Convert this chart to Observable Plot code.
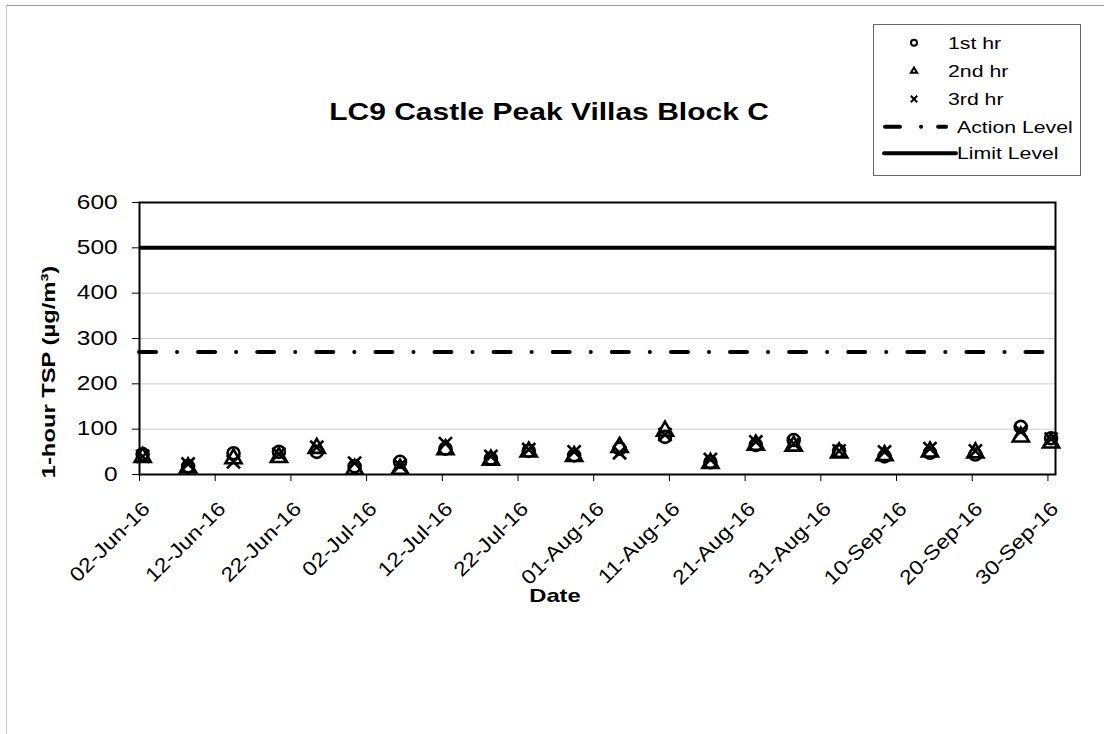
<!DOCTYPE html>
<html><head><meta charset="utf-8">
<script src="https://cdn.jsdelivr.net/npm/d3@7"></script>
<script src="https://cdn.jsdelivr.net/npm/@observablehq/plot@0.6"></script>
<style>
html,body{margin:0;padding:0;background:#fff;}
#wrap{position:relative;width:1104px;height:734px;overflow:hidden;}
#border{position:absolute;left:6px;top:5px;width:1300px;height:900px;border-top:1px solid #9a9a9a;border-left:1px solid #c4c4c4;pointer-events:none;}
#wrap svg{position:absolute;left:0;top:0;}
</style>
</head><body>
<div id="wrap"><div id="border"></div></div>
<script>
// ---- data ----
const sampleDates = ["2016-06-02","2016-06-08","2016-06-14","2016-06-20","2016-06-25","2016-06-30",
  "2016-07-06","2016-07-12","2016-07-18","2016-07-23","2016-07-29","2016-08-04","2016-08-10",
  "2016-08-16","2016-08-22","2016-08-27","2016-09-02","2016-09-08","2016-09-14","2016-09-20",
  "2016-09-26","2016-09-30"];
const sampleTime = "T10:00:00Z";
const hr1 = [45,18,47,50,50,18,28,57,35,52,42,57,83,27,65,76,52,40,48,44,105,80];
const hr2 = [38,15,35,38,58,12,12,55,32,50,40,60,96,25,65,63,48,42,50,48,83,70];
const hr3 = [40,23,28,45,60,25,20,68,40,55,50,48,88,33,72,68,52,50,57,52,95,78];
const actionLevel = 270;
const limitLevel = 500;
const xTicks = ["2016-06-02","2016-06-12","2016-06-22","2016-07-02","2016-07-12","2016-07-22",
  "2016-08-01","2016-08-11","2016-08-21","2016-08-31","2016-09-10","2016-09-20","2016-09-30"];
const xDomain = ["2016-06-02","2016-10-01"];
const yTicks = [0,100,200,300,400,500,600];
const yGrid = [100,200,300,400,500];
const seriesNames = ["1st hr","2nd hr","3rd hr"];
const levelNames = ["Action Level","Limit Level"];
const titleText = "LC9 Castle Peak Villas Block C";
const yLabel = "1-hour TSP (µg/m³)";
const xLabel = "Date";

// ---- build ----
const font = "'Liberation Sans', Arial, sans-serif";
const pts = (vals) => sampleDates.map((d,i) => ({date: new Date(d + sampleTime), v: vals[i]}));
const dotOpts = {x: "date", y: "v", stroke: "black", fill: "none", strokeWidth: 2.6, r: 6};
const fmt = d3.utcFormat("%d-%b-%y");
const xTickDates = xTicks.map(d => new Date(d));

const chart = Plot.plot({
  width: 1104, height: 734,
  marginLeft: 139, marginRight: 49, marginTop: 202, marginBottom: 260,
  style: {fontFamily: font, fontSize: "19.5px", color: "black", background: "transparent"},
  x: {type: "utc", domain: xDomain.map(d => new Date(d)), axis: null},
  y: {domain: [0, 600], axis: null},
  marks: [
    Plot.gridY(yGrid, {stroke: "#cfcfcf", strokeOpacity: 1, strokeWidth: 1}),
    Plot.ruleY([limitLevel], {stroke: "black", strokeWidth: 4}),
    Plot.ruleY([actionLevel], {stroke: "black", strokeWidth: 4, strokeDasharray: "17,21,0.1,21", strokeLinecap: "round"}),
    Plot.dot(pts(hr1), {...dotOpts, symbol: "circle"}),
    Plot.dot(pts(hr2), {...dotOpts, symbol: "triangle"}),
    Plot.dot(pts(hr3), {...dotOpts, symbol: "times"}),
    Plot.frame({stroke: "black", strokeWidth: 2}),
    Plot.axisY({ticks: yTicks, tickSize: 7, tickPadding: 15, label: null, fontSize: 19.5, tickFormat: d => String(d)}),
    Plot.axisX({ticks: xTickDates, tickSize: 7, fill: "none", label: null, tickFormat: fmt}),
    Plot.axisX({ticks: xTickDates, tickFormat: fmt, tickSize: 7, tickPadding: 23, tickRotate: -45, stroke: "none", dx: 7, dy: 1, label: null, fontSize: 20, className: "xt"})
  ]
});
document.getElementById("wrap").appendChild(chart);

const svg = d3.select(chart);
// title
svg.append("text").attr("x", 549).attr("y", 120).attr("text-anchor", "middle")
  .attr("font-family", font).attr("font-weight", "bold").attr("font-size", 24).attr("fill", "black")
  .text(titleText);
// y label
svg.append("text").attr("transform", "translate(55,372) rotate(-90)").attr("text-anchor", "middle")
  .attr("font-family", font).attr("font-weight", "bold").attr("font-size", 19).attr("fill", "black")
  .text(yLabel);
// x label
svg.append("text").attr("x", 555).attr("y", 602).attr("text-anchor", "middle")
  .attr("font-family", font).attr("font-weight", "bold").attr("font-size", 19).attr("fill", "black")
  .text(xLabel);

// legend
const lg = svg.append("g").attr("text-anchor", "start");
lg.append("rect").attr("x", 873.5).attr("y", 24.5).attr("width", 207).attr("height", 151)
  .attr("fill", "white").attr("stroke", "#6a6a6a").attr("stroke-width", 1);
const rowY = [42.7, 71, 99, 126.7, 153.3];
const symTypes = [d3.symbolCircle, d3.symbolTriangle2, d3.symbolTimes];
seriesNames.forEach((name, i) => {
  lg.append("path").attr("d", d3.symbol(symTypes[i], 28)())
    .attr("transform", `translate(914,${rowY[i]})`).attr("fill", "none").attr("stroke", "black").attr("stroke-width", 2);
  lg.append("text").attr("x", 948).attr("y", rowY[i]).attr("dy", "0.35em").attr("text-anchor", "start")
    .attr("font-family", font).attr("font-size", 17).attr("fill", "black").text(name);
});
lg.append("line").attr("x1", 885).attr("x2", 955).attr("y1", rowY[3]).attr("y2", rowY[3])
  .attr("stroke", "black").attr("stroke-width", 4).attr("stroke-linecap", "round").attr("stroke-dasharray", "15,21,0.1,17,8");
lg.append("line").attr("x1", 884).attr("x2", 956).attr("y1", rowY[4]).attr("y2", rowY[4])
  .attr("stroke", "black").attr("stroke-width", 4).attr("stroke-linecap", "round");
levelNames.forEach((name, i) => {
  lg.append("text").attr("x", 957).attr("y", rowY[3 + i]).attr("dy", "0.35em").attr("text-anchor", "start")
    .attr("font-family", font).attr("font-size", 17).attr("fill", "black").text(name);
});

// widen text (reference text is rendered wider than Arial)
chart.querySelectorAll("text").forEach(t => {
  const L = t.getComputedTextLength();
  if (L > 0) {
    const rotated = t.closest(".xt") != null;
    t.setAttribute("textLength", (L * (rotated ? 1.15 : 1.25)).toFixed(1));
    t.setAttribute("lengthAdjust", "spacingAndGlyphs");
  }
});
</script>
</body></html>
